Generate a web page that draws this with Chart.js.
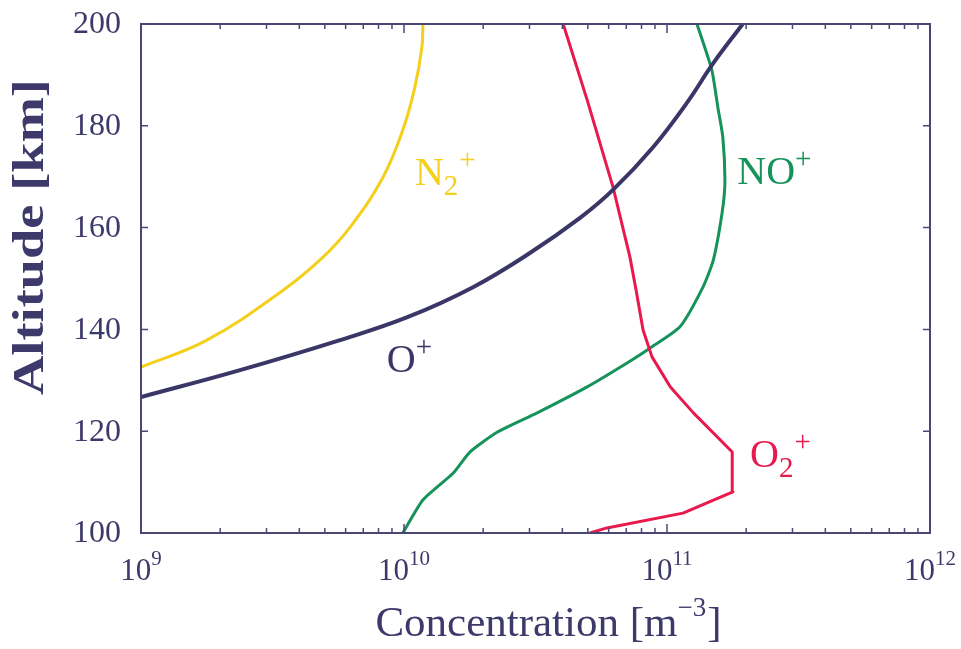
<!DOCTYPE html>
<html>
<head>
<meta charset="utf-8">
<script src="https://cdn.jsdelivr.net/npm/chart.js@4.4.0/dist/chart.umd.min.js"></script>
<style>
  html, body { margin: 0; padding: 0; background: #ffffff; }
  #wrap { width: 961px; height: 649px; }
</style>
</head>
<body>
<div id="wrap"><canvas id="chart" width="961" height="649"></canvas></div>
<script>
// altitude (km) and concentration (m^-3)
const n2Alt  = [132.6, 137.9, 147.7, 154.2, 160.1, 169.9, 179.2, 187.6, 195.5, 200];
const n2Conc = [1.0e9, 1.78e9, 3.47e9, 4.92e9, 6.24e9, 8.32e9, 9.9e9, 1.10e10, 1.17e10, 1.18e10];

const oAlt  = [126.7, 132.0, 137.9, 142.4, 148.3, 155.0, 161.9, 167.4, 175.8, 184.5, 192.3, 200];
const oConc = [1.0e9, 2.38e9, 5.71e9, 1.03e10, 1.83e10, 3.01e10, 4.67e10, 6.23e10, 8.85e10, 1.19e11, 1.50e11, 1.94e11];

const o2Alt  = [100, 101.0, 103.9, 108.1, 115.9, 123.6, 128.7, 134.6, 139.9, 147.7, 154.2, 168.0, 185.1, 200];
const o2Conc = [5.1e10, 5.91e10, 1.15e11, 1.78e11, 1.77e11, 1.26e11, 1.03e11, 8.77e10, 8.11e10, 7.63e10, 7.23e10, 6.23e10, 4.97e10, 4.03e10];

const noAlt  = [100, 106.5, 111.8, 115.9, 119.8, 123.6, 128.7, 133.4, 136.3, 140.5, 148.3, 153.6, 162.9, 168.8, 177.8, 183.7, 191.0, 200];
const noConc = [9.9e9, 1.18e10, 1.54e10, 1.78e10, 2.26e10, 3.21e10, 4.97e10, 7.05e10, 8.61e10, 1.12e11, 1.37e11, 1.50e11, 1.62e11, 1.66e11, 1.63e11, 1.56e11, 1.48e11, 1.30e11];

const yTicks = [100, 120, 140, 160, 180, 200];
const xDecades = [9, 10, 11, 12];

// curve labels: [base, subscript, superscript, concentration, altitude, colour]
const ionLabels = [
  ['N', '2', '+', 1.10e10, 168.4, '#f4cf1c'],
  ['O', '', '+', 8.6e9, 131.6, '#3a3768'],
  ['NO', '', '+', 1.85e11, 168.6, '#15935a'],
  ['O', '2', '+', 2.07e11, 113.0, '#e8194c']
];

const ink = '#3d3a6b';
const serif = '"Liberation Serif", "DejaVu Serif", serif';

function pts(conc, alt) {
  return conc.map((c, i) => ({ x: c, y: alt[i] }));
}

function drawIon(ctx, x, y, base, sub, sup, color) {
  ctx.fillStyle = color;
  ctx.textBaseline = 'alphabetic';
  ctx.textAlign = 'left';
  ctx.font = '40px ' + serif;
  ctx.fillText(base, x, y);
  let x2 = x + ctx.measureText(base).width;
  ctx.font = '29px ' + serif;
  if (sub) {
    ctx.fillText(sub, x2, y + 10);
    x2 += ctx.measureText(sub).width + 1;
  }
  ctx.fillText(sup, x2, y - 16);
}

const frameAndText = {
  id: 'frameAndText',
  afterDatasetsDraw(chart) {
    const ctx = chart.ctx;
    const a = chart.chartArea;
    const xs = chart.scales.x;
    const ys = chart.scales.y;
    ctx.save();

    // frame
    ctx.strokeStyle = '#4a4775';
    ctx.lineWidth = 2;
    ctx.strokeRect(a.left, a.top, a.right - a.left, a.bottom - a.top);

    // x ticks, inward, bottom and top
    ctx.lineWidth = 1.5;
    ctx.beginPath();
    xDecades.forEach((d, di) => {
      for (let m = 1; m <= 9; m++) {
        if (di === xDecades.length - 1 && m > 1) break;
        const px = xs.getPixelForValue(m * Math.pow(10, d));
        const len = m === 1 ? 9 : 5;
        ctx.moveTo(px, a.bottom); ctx.lineTo(px, a.bottom - len);
        ctx.moveTo(px, a.top); ctx.lineTo(px, a.top + len);
      }
    });
    // y ticks, inward, left and right
    yTicks.forEach(v => {
      const py = ys.getPixelForValue(v);
      ctx.moveTo(a.left, py); ctx.lineTo(a.left + 7, py);
      ctx.moveTo(a.right, py); ctx.lineTo(a.right - 7, py);
    });
    ctx.stroke();

    // y tick labels
    ctx.fillStyle = ink;
    ctx.font = '32px ' + serif;
    ctx.textAlign = 'right';
    ctx.textBaseline = 'middle';
    yTicks.forEach(v => {
      ctx.fillText(String(v), a.left - 20, ys.getPixelForValue(v) + 1);
    });

    // x tick labels 10^n
    ctx.textBaseline = 'alphabetic';
    xDecades.forEach(d => {
      const px = xs.getPixelForValue(Math.pow(10, d));
      ctx.font = '31px ' + serif;
      const wb = ctx.measureText('10').width;
      ctx.font = '21px ' + serif;
      const we = ctx.measureText(String(d)).width;
      const x0 = px - (wb + we) / 2;
      ctx.textAlign = 'left';
      ctx.font = '31px ' + serif;
      ctx.fillText('10', x0, a.bottom + 47);
      ctx.font = '21px ' + serif;
      ctx.fillText(String(d), x0 + wb, a.bottom + 32);
    });

    // x axis title
    ctx.font = '43px ' + serif;
    const t1 = 'Concentration [m';
    const w1 = ctx.measureText(t1).width;
    ctx.font = '27px ' + serif;
    const t2 = '\u22123';
    const w2 = ctx.measureText(t2).width;
    ctx.font = '43px ' + serif;
    const w3 = ctx.measureText(']').width;
    let tx = 548 - (w1 + w2 + w3) / 2;
    ctx.fillText(t1, tx, 636);
    ctx.font = '27px ' + serif;
    ctx.fillText(t2, tx + w1, 616);
    ctx.font = '43px ' + serif;
    ctx.fillText(']', tx + w1 + w2 + 1, 636);

    // y axis title
    ctx.save();
    ctx.translate(43, 237);
    ctx.rotate(-Math.PI / 2);
    ctx.font = 'bold 44px ' + serif;
    const ty = 'Altitude [km]';
    const wy = ctx.measureText(ty).width;
    ctx.scale(316 / wy, 1);
    ctx.textAlign = 'center';
    ctx.fillText(ty, 0, 0);
    ctx.restore();

    // curve labels
    ionLabels.forEach(l => {
      drawIon(ctx, xs.getPixelForValue(l[3]), ys.getPixelForValue(l[4]), l[0], l[1], l[2], l[5]);
    });

    ctx.restore();
  }
};

new Chart(document.getElementById('chart'), {
  type: 'scatter',
  data: {
    datasets: [
      { label: 'N2+', data: pts(n2Conc, n2Alt), borderColor: '#f4cf1c', borderWidth: 3, tension: 0.4 },
      { label: 'O+', data: pts(oConc, oAlt), borderColor: '#3a3768', borderWidth: 4, tension: 0.4 },
      { label: 'O2+', data: pts(o2Conc, o2Alt), borderColor: '#e8194c', borderWidth: 3, tension: 0 },
      { label: 'NO+', data: pts(noConc, noAlt), borderColor: '#15935a', borderWidth: 3, tension: 0.2 }
    ].map(ds => Object.assign(ds, { showLine: true, pointRadius: 0, fill: false, borderJoinStyle: 'round' }))
  },
  options: {
    responsive: false,
    animation: false,
    layout: { padding: { left: 141, right: 31, top: 24, bottom: 116 } },
    plugins: { legend: { display: false }, tooltip: { enabled: false } },
    scales: {
      x: {
        type: 'logarithmic', min: 1e9, max: 1e12, display: false
      },
      y: {
        type: 'linear', min: 100, max: 200, display: false
      }
    }
  },
  plugins: [frameAndText]
});
</script>
</body>
</html>
